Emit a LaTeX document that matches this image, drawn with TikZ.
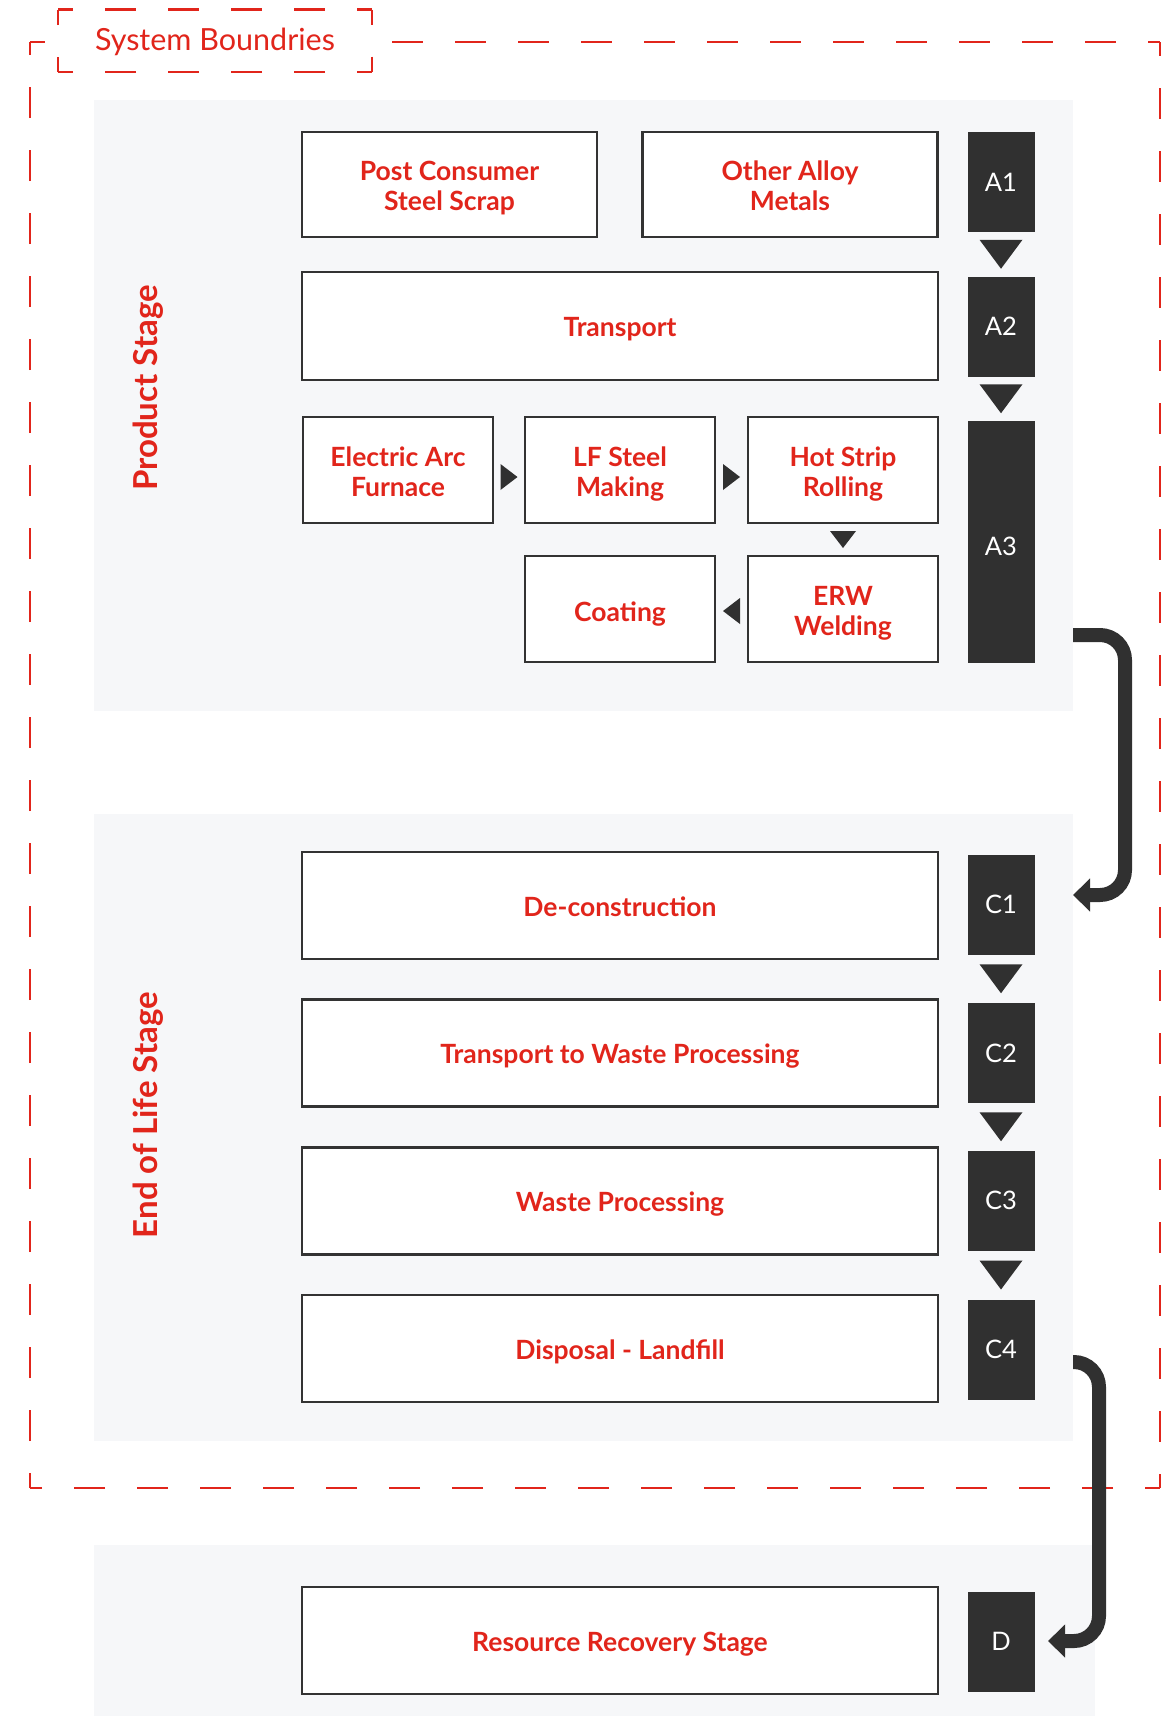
\documentclass[tikz,border=0pt]{standalone}
\usepackage{fontspec}
\setmainfont{Lato}
\usetikzlibrary{arrows.meta,calc}
\definecolor{myred}{HTML}{E1251B}
\definecolor{darkc}{HTML}{303030}
\definecolor{panelc}{HTML}{F6F7F9}
\definecolor{boxc}{HTML}{333333}
\newcommand\twol[2]{\rule{0pt}{28pt}#1\\#2\rule[-6pt]{0pt}{6pt}}
\newcommand\onel[1]{\rule[-5.5pt]{0pt}{32.5pt}#1}
\begin{document}
\begin{tikzpicture}[x=1pt,y=-1pt,
  panel/.style={fill=panelc, draw=none},
  wbox/.style={draw=boxc, line width=2.5pt, fill=white, text=myred,
    font=\fontsize{26.5}{30}\selectfont\bfseries, align=center, inner sep=0pt},
  dbox/.style={fill=darkc, text=white, font=\fontsize{25.5}{28}\selectfont,
    minimum width=67pt, minimum height=100pt, inner sep=0pt},
  stage/.style={rotate=90, text=myred, font=\fontsize{33}{38}\selectfont\bfseries},
  bnd/.style={draw=myred, line width=2.5pt, dash pattern=on 31pt off 32pt},
  flow/.style={draw=darkc, line width=14pt, rounded corners=25pt,
    -{Triangle[length=17pt,width=32pt]}},
  downtri/.pic={\fill[darkc] (-21.5,-14.5) -- (21.5,-14.5) -- (0,14.5) -- cycle;},
  rtri/.pic={\fill[darkc] (-8.5,-13) -- (8.5,0) -- (-8.5,13) -- cycle;},
  ltri/.pic={\fill[darkc] (8.5,-13) -- (-8.5,0) -- (8.5,13) -- cycle;},
  dtri/.pic={\fill[darkc] (-13,-8.5) -- (13,-8.5) -- (0,8.5) -- cycle;},
]
\useasboundingbox (0,0) rectangle (1163,1716);
% panels
\fill[panel] (94,100) rectangle (1073,711);
\fill[panel] (94,814) rectangle (1073,1441);
\fill[panel] (94,1545) rectangle (1095,1716);
% system boundary
\draw[bnd, dash phase=16pt] (30,42) -- (1160,42);
\draw[bnd, dash phase=17pt] (1160,42) -- (1160,1488);
\draw[bnd, dash phase=16pt] (1160,1488) -- (30,1488);
\draw[bnd, dash phase=16pt] (30,1488) -- (30,42);
\fill[white] (58,9.5) rectangle (372,72);
\draw[bnd, dash phase=16pt] (58,9.5) -- (372,9.5);
\draw[bnd, dash phase=16pt] (372,9.5) -- (372,72);
\draw[bnd, dash phase=16pt] (372,72) -- (58,72);
\draw[bnd, dash phase=16pt] (58,72) -- (58,9.5);
\node[anchor=base, text=myred, font=\fontsize{30.5}{34}\selectfont] (sb) at (215,50.5) {System Boundries};
% stage labels
\node[stage] (ps) at (148,388) {Product Stage};
\node[stage] (eol) at (148,1115) {End of Life Stage};
% product stage boxes
\node[wbox, minimum width=295pt, minimum height=105pt] (pcs) at (449.5,184.5) {\twol{Post Consumer}{Steel Scrap}};
\node[wbox, minimum width=295pt, minimum height=105pt] (oam) at (790,184.5) {\twol{Other Alloy}{Metals}};
\node[wbox, minimum width=636pt, minimum height=108pt] (tr) at (620,326) {\onel{Transport}};
\node[wbox, minimum width=190pt, minimum height=106pt] (ea) at (398,470) {\twol{Electric Arc}{Furnace}};
\node[wbox, minimum width=190pt, minimum height=106pt] (lf) at (620,470) {\twol{LF Steel}{Making}};
\node[wbox, minimum width=190pt, minimum height=106pt] (hs) at (843,470) {\twol{Hot Strip}{Rolling}};
\node[wbox, minimum width=190pt, minimum height=106pt] (coat) at (620,609) {\rule[-5.5pt]{0pt}{36pt}Coating};
\node[wbox, minimum width=190pt, minimum height=106pt] (erw) at (843,609) {\twol{ERW}{Welding}};
\node[dbox] (a1) at (1001,182) {A1};
\node[dbox] (a2) at (1001,326.5) {A2};
\node[dbox, minimum height=242pt] (a3) at (1001,542) {\rule{0pt}{28pt}A3};
\pic at ($(a1.south)!.5!(a2.north)$) {downtri};
\pic at ($(a2.south)!.5!(a3.north)$) {downtri};
\pic at ($($(ea.east)!.5!(lf.west)$)+(0,7)$) {rtri};
\pic at ($($(lf.east)!.5!(hs.west)$)+(0,7)$) {rtri};
\pic at ($(hs.south)!.5!(erw.north)$) {dtri};
\pic at ($($(erw.west)!.5!(coat.east)$)+(0,2)$) {ltri};
% end of life boxes
\node[wbox, minimum width=636pt, minimum height=107pt] (dc) at (620,905.5) {\onel{De-construction}};
\node[wbox, minimum width=636pt, minimum height=107pt] (twp) at (620,1053) {\onel{Transport to Waste Processing}};
\node[wbox, minimum width=636pt, minimum height=107pt] (wp) at (620,1201) {\onel{Waste Processing}};
\node[wbox, minimum width=636pt, minimum height=107pt] (dl) at (620,1348.5) {\onel{Disposal - Landfill}};
\node[dbox] (c1) at (1001,904.5) {C1};
\node[dbox] (c2) at (1001,1053) {C2};
\node[dbox] (c3) at (1001,1200.5) {C3};
\node[dbox] (c4) at (1001,1349.5) {C4};
\pic at ($(c1.south)!.5!(c2.north)$) {downtri};
\pic at ($(c2.south)!.5!(c3.north)$) {downtri};
\pic at ($(c3.south)!.5!(c4.north)$) {downtri};
% resource recovery
\node[wbox, minimum width=636pt, minimum height=107pt] (rr) at (620,1640.5) {\onel{Resource Recovery Stage}};
\node[dbox] (d) at (1001,1641.5) {D};
% flow arrows
\coordinate (a3out) at (1073,635);
\coordinate (c1in) at (1073,895);
\coordinate (c4out) at (1073,1362);
\coordinate (din) at (1048,1641);
\draw[flow] (a3out) -- ++(52,0) |- (c1in);
\draw[flow] (c4out) -- ++(26,0) |- (din);
\end{tikzpicture}
\end{document}
